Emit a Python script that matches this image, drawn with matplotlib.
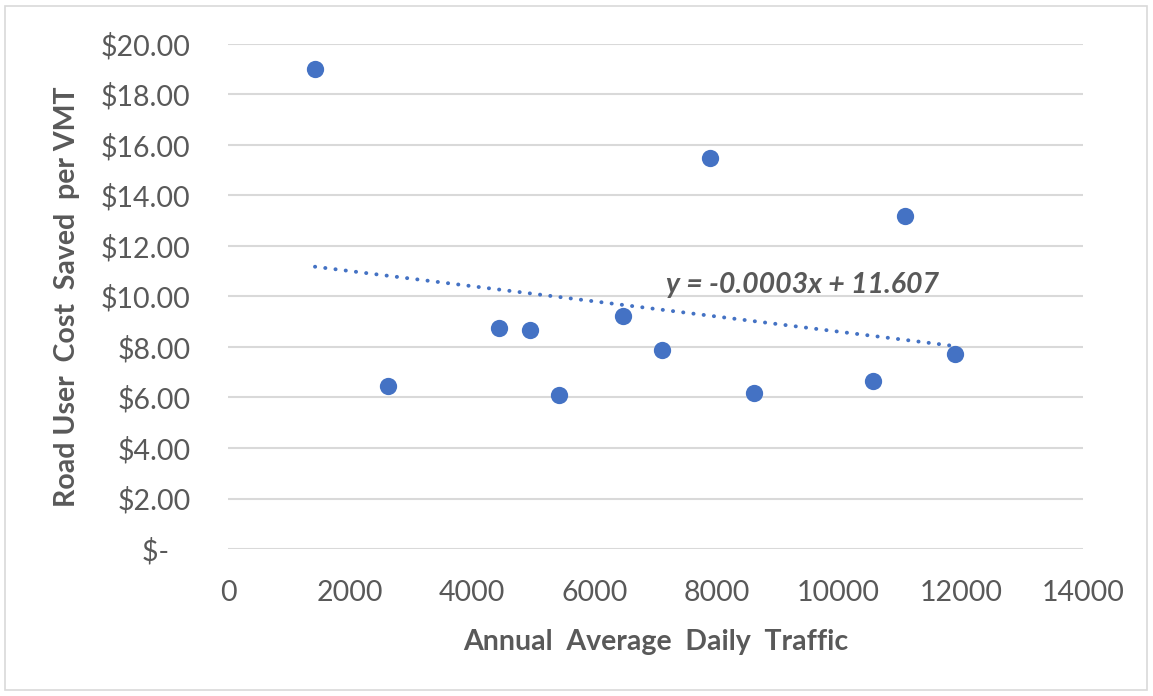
import numpy as np
import matplotlib.pyplot as plt
from matplotlib.patches import Rectangle
from matplotlib.ticker import FuncFormatter, MultipleLocator

# --- Data ---
aadt = [1425, 2620, 4438, 4945, 5420, 6468, 7107, 7893, 8613, 10562, 11086, 11904]
cost_saved = [19.01, 6.46, 8.75, 8.67, 6.10, 9.23, 7.88, 15.49, 6.18, 6.65, 13.19, 7.72]

# trendline as reported by the chart
slope = -0.0003
intercept = 11.607
eq_label = "y = -0.0003x + 11.607"

plt.rcParams['font.family'] = ['Lato', 'DejaVu Sans']

grey = '#595959'
blue = '#4472C4'

fig = plt.figure(figsize=(11.53, 6.96), dpi=100)
ax = fig.add_axes([0.1977, 0.2112, 0.7416, 0.7256])

# --- Gridlines ---
ax.set_xlim(0, 14000)
ax.set_ylim(0, 20)
ax.yaxis.set_major_locator(MultipleLocator(2))
ax.xaxis.set_major_locator(MultipleLocator(2000))
ax.grid(axis='y', color='#D9D9D9', linewidth=1.5, zorder=0)
ax.set_axisbelow(True)
for s in ax.spines.values():
    s.set_visible(False)

# --- Points ---
ax.scatter(aadt, cost_saved, s=155, color=blue, zorder=3, linewidths=0)

# --- Trendline ---
x_tr = np.array([min(aadt), max(aadt)])
ax.plot(x_tr, slope * x_tr + intercept, color=blue, linewidth=2.8,
        linestyle=(0, (0.05, 2.6)), dash_capstyle='round', zorder=2)
ax.text(7172, 10.45, eq_label, fontsize=20.5, fontweight='bold', fontstyle='italic',
        color=grey, ha='left', va='center', zorder=4)

# --- Tick labels ---
def dollars(v, pos):
    if abs(v) < 1e-9:
        return "$-   "
    return f"${v:.2f}"

ax.yaxis.set_major_formatter(FuncFormatter(dollars))
ax.tick_params(axis='both', length=0, labelsize=20.5, labelcolor=grey)
ax.tick_params(axis='y', pad=27)
ax.tick_params(axis='x', pad=22)

ax.set_xlabel("Annual  Average  Daily  Traffic", fontsize=20.5, fontweight='bold',
              color=grey, labelpad=17)
ax.set_ylabel("Road User  Cost  Saved  per VMT", fontsize=20.5, fontweight='bold',
              color=grey, labelpad=15)

# --- Chart border ---
fig.patches.append(Rectangle((5 / 1153, 6 / 696), 1142 / 1153, 684 / 696,
                             transform=fig.transFigure, fill=False,
                             edgecolor='#D9D9D9', linewidth=1.2))

fig.savefig("out.png", dpi=100)
